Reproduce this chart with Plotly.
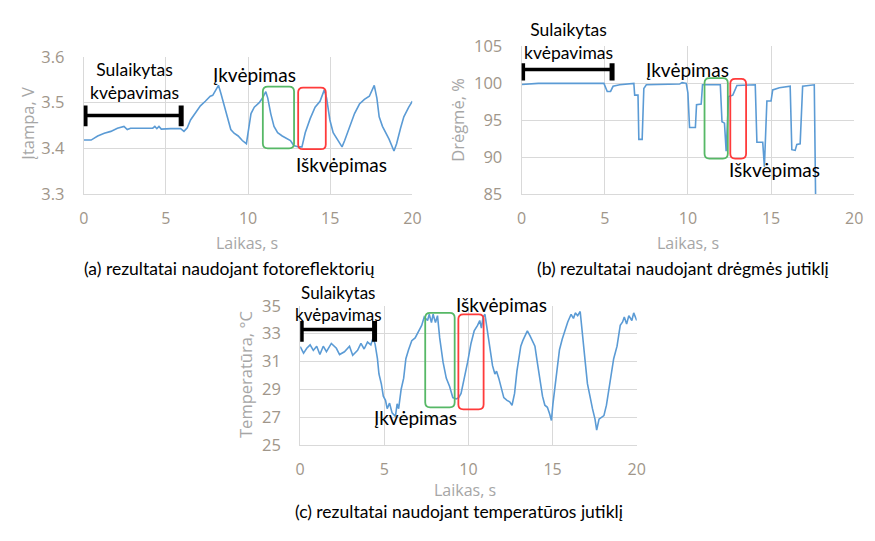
import plotly.graph_objects as go

W, H = 875, 541

# ---------------- data ----------------
a_time = [0.0, 0.45, 0.85, 1.25, 1.65, 2.05, 2.45, 2.65, 2.85, 3.3, 3.9, 4.2, 4.33, 4.45, 4.58, 4.72, 5.3, 5.9, 6.1, 6.3,
          6.5, 6.8, 7.1, 7.4, 7.7, 7.85, 8.0, 8.2, 8.35, 8.55, 8.75, 8.95, 9.15, 9.4, 9.65, 9.9, 10.0, 10.18, 10.38, 10.68,
          10.88, 11.08, 11.2, 11.38, 11.58, 11.8, 12.08, 12.38, 12.58, 12.78, 13.08, 13.28, 13.48, 13.78, 14.08, 14.38,
          14.64, 14.78, 14.98, 15.18, 15.48, 15.72, 15.88, 16.18, 16.48, 16.78, 17.08, 17.38, 17.68, 17.84, 17.98, 18.18,
          18.38, 18.58, 18.88, 19.04, 19.28, 19.48, 19.78, 20.0]
a_volt = [3.418, 3.418, 3.427, 3.433, 3.437, 3.444, 3.448, 3.441, 3.444, 3.444, 3.444, 3.444, 3.448, 3.443, 3.448, 3.442,
          3.443, 3.443, 3.437, 3.445, 3.462, 3.479, 3.493, 3.503, 3.514, 3.516, 3.526, 3.538, 3.52, 3.493, 3.465, 3.441,
          3.433, 3.427, 3.417, 3.41, 3.434, 3.476, 3.49, 3.5, 3.51, 3.524, 3.51, 3.476, 3.448, 3.434, 3.427, 3.42, 3.417,
          3.406, 3.403, 3.403, 3.434, 3.465, 3.49, 3.503, 3.528, 3.51, 3.462, 3.434, 3.417, 3.403, 3.417, 3.448, 3.476,
          3.497, 3.507, 3.514, 3.538, 3.51, 3.469, 3.448, 3.434, 3.42, 3.394, 3.41, 3.444, 3.469, 3.49, 3.503]

b_time = [0.0, 0.9, 1.0, 4.95, 5.15, 5.35, 5.5, 5.9, 6.75, 6.8, 7.0, 7.05, 7.25, 7.35, 7.5, 9.5, 9.65, 9.9, 10.0, 10.1,
          10.45, 10.52, 10.8, 10.88, 11.95, 12.05, 12.2, 12.3, 12.45, 12.7, 12.95, 14.05, 14.15, 14.5, 14.6, 14.75, 15.0,
          15.1, 15.5, 16.15, 16.25, 16.45, 16.55, 16.75, 16.9, 17.6, 17.68]
b_hum = [99.85, 99.9, 100.0, 100.0, 98.9, 98.9, 99.6, 99.8, 100.0, 98.4, 98.4, 92.4, 92.4, 99.3, 99.8, 99.9, 100.1, 100.0,
         98.7, 94.0, 94.0, 97.1, 97.2, 99.8, 99.8, 94.8, 94.6, 90.8, 98.2, 98.4, 99.7, 99.8, 92.0, 92.0, 88.7, 97.6, 97.6,
         99.1, 99.4, 99.6, 91.0, 90.9, 91.7, 91.8, 99.6, 99.8, 84.5]

c_time = [0.00, 0.20, 0.39, 0.59, 0.78, 0.98, 1.17, 1.37, 1.56, 1.85, 2.15, 2.34, 2.63, 2.93, 3.12, 3.41, 3.61, 3.80,
          4.00, 4.20, 4.33, 4.45, 4.59, 4.68, 4.82, 4.94, 5.07, 5.17, 5.31, 5.46, 5.66, 5.76, 5.85, 6.00, 6.15, 6.28,
          6.44, 6.63, 6.83, 7.02, 7.22, 7.37, 7.57, 7.67, 7.80, 7.90, 8.04, 8.16, 8.29, 8.49, 8.68, 8.88, 9.07, 9.27,
          9.42, 9.56, 9.76, 9.95, 10.15, 10.34, 10.54, 10.67, 10.77, 10.87, 10.98, 11.12, 11.28, 11.43, 11.57, 11.67,
          11.80, 11.94, 12.10, 12.29, 12.45, 12.59, 12.74, 12.88, 12.98, 13.11, 13.23, 13.37, 13.50, 13.66, 13.81,
          13.95, 14.09, 14.24, 14.40, 14.54, 14.69, 14.83, 14.93, 15.02, 15.18, 15.28, 15.41, 15.57, 15.71, 15.90,
          16.10, 16.24, 16.35, 16.49, 16.64, 16.78, 16.94, 17.07, 17.23, 17.37, 17.52, 17.62, 17.76, 17.91, 18.05,
          18.20, 18.34, 18.50, 18.63, 18.83, 19.02, 19.16, 19.26, 19.40, 19.53, 19.71, 19.82, 20.00]
c_temp = [32.07, 31.6, 31.95, 32.2, 31.8, 32.1, 31.5, 32.1, 31.7, 32.3, 31.95, 31.5, 31.7, 32.1, 31.45, 31.8, 32.3, 31.9,
          32.4, 32.2, 32.7, 32.25, 31.2, 30.1, 29.4, 28.5, 28.2, 27.6, 28.0, 27.3, 27.05, 27.95, 27.6, 29.0, 29.8, 31.2,
          31.85, 32.5, 32.7, 33.2, 33.6, 34.2, 33.95, 34.4, 33.8, 34.4, 33.8, 34.3, 32.7, 30.95, 29.8, 29.2, 28.4, 28.3,
          28.4, 28.7, 29.8, 30.95, 32.3, 33.2, 33.6, 33.95, 33.4, 34.2, 34.4, 33.2, 31.85, 30.7, 30.1, 30.3,
          29.8, 29.1, 28.4, 28.2, 28.1, 27.85, 28.7, 30.3, 31.2, 32.1, 32.5, 32.85, 33.2, 32.85, 32.4,
          32.1, 30.95, 29.6, 28.5, 27.85, 27.7, 27.2, 26.75, 27.95, 29.4, 30.7, 31.85, 32.6, 33.2, 33.85,
          34.4, 34.1, 34.5, 34.3, 34.6, 32.7, 30.95, 29.4, 28.3, 27.6, 26.85, 26.05, 26.85, 26.95, 27.1,
          27.85, 28.95, 30.1, 31.2, 32.1, 33.6, 33.85, 34.2, 33.7, 34.3, 33.95, 34.5, 33.95]

x_ticks = [0, 5, 10, 15, 20]
x_ticktext = ["0", "5", "10", "15", "20"]
a_yticks = [3.3, 3.4, 3.5, 3.6]
a_yticktext = ["3.3", "3.4", "3.5", "3.6"]
b_yticks = [85, 90, 95, 100, 105]
b_yticktext = ["85", "90", "95", "100", "105"]
c_yticks = [25, 27, 29, 31, 33, 35]
c_yticktext = ["25", "27", "29", "31", "33", "35"]

# ---------------- styles ----------------
LINE = "#5b9bd5"
GRID = "#d9d9d9"
TICKC = "#a0968a"
TITLEC = "#a6a6a6"
GREEN = "#56b866"
RED = "#ff3b3b"
TFONT = "Open Sans"
AFONT = "Lato"

# plot areas in pixels (left, right, top, bottom)
PA = {"a": (80, 414, 47, 190), "b": (525, 863, 36, 190), "c": (300, 642, 307, 452)}
YR = {"a": [3.3, 3.6], "b": [85, 105], "c": [25, 35]}

fig = go.Figure()
fig.add_trace(go.Scatter(x=a_time, y=a_volt, mode="lines", line=dict(color=LINE, width=1.6),
                         xaxis="x", yaxis="y", showlegend=False, hoverinfo="skip"))
fig.add_trace(go.Scatter(x=b_time, y=b_hum, mode="lines", line=dict(color=LINE, width=1.6),
                         xaxis="x2", yaxis="y2", showlegend=False, hoverinfo="skip"))
fig.add_trace(go.Scatter(x=c_time, y=c_temp, mode="lines", line=dict(color=LINE, width=1.6),
                         xaxis="x3", yaxis="y3", showlegend=False, hoverinfo="skip"))


def xax(key, anchor):
    l, r, t, b = PA[key]
    return dict(domain=[l / W, r / W], range=[0, 20], tickvals=x_ticks, ticktext=x_ticktext,
                showgrid=True, gridcolor=GRID, gridwidth=1, zeroline=False, showline=True,
                linecolor=GRID, linewidth=1, ticks="", anchor=anchor, ticklabelstandoff=10,
                tickfont=dict(family=TFONT, size=16, color=TICKC), fixedrange=True)


def yax(key, anchor, vals, text):
    l, r, t, b = PA[key]
    return dict(domain=[1 - b / H, 1 - t / H], range=YR[key], tickvals=vals, ticktext=text,
                showgrid=True, gridcolor=GRID, gridwidth=1, zeroline=False, showline=True,
                linecolor=GRID, linewidth=1, ticks="", anchor=anchor, ticklabelstandoff=15,
                tickfont=dict(family=TFONT, size=16.5, color=TICKC), fixedrange=True)


fig.update_layout(
    width=W, height=H, margin=dict(l=0, r=0, t=0, b=0),
    paper_bgcolor="white", plot_bgcolor="white",
    xaxis=xax("a", "y"), yaxis=yax("a", "x", a_yticks, a_yticktext),
    xaxis2=xax("b", "y2"), yaxis2=yax("b", "x2", b_yticks, b_yticktext),
    xaxis3=xax("c", "y3"), yaxis3=yax("c", "x3", c_yticks, c_yticktext),
)

anns = []


def ann(text, px, py, size=19, color="black", family=AFONT, angle=0):
    anns.append(dict(text=text, x=px / W, y=1 - py / H, xref="paper", yref="paper", showarrow=False,
                     xanchor="center", yanchor="middle", textangle=angle,
                     font=dict(family=family, size=size, color=color)))


# axis titles
ann("Laikas, s", 246, 241, 16, TITLEC, TFONT)
ann("Laikas, s", 694, 241, 16, TITLEC, TFONT)
ann("Laikas, s", 467, 499, 16, TITLEC, TFONT)
ann("Įtampa, V", 22, 116, 16.5, TITLEC, TFONT, -90)
ann("Drėgmė, %", 460, 113, 16.5, TITLEC, TFONT, -90)
ann("Temperatūra, °C", 245, 379, 16.5, TITLEC, TFONT, -90)

# captions
ann("(a) rezultatai naudojant fotoreflektorių", 228, 268, 17.5)
ann("(b) rezultatai naudojant drėgmės jutiklį", 689, 268, 17.5)
ann("(c) rezultatai naudojant temperatūros jutiklį", 461, 522, 17.5)

# in-chart labels
ann("Sulaikytas<br>kvėpavimas", 132, 72, 17.5)
ann("Įkvėpimas", 254, 65)
ann("Iškvėpimas", 342, 159)

ann("Sulaikytas<br>kvėpavimas", 573, 30, 17.5)
ann("Įkvėpimas", 694, 60)
ann("Iškvėpimas", 782, 165)

ann("Sulaikytas<br>kvėpavimas", 339, 304, 17)
ann("Iškvėpimas", 505, 306)
ann("Įkvėpimas", 417, 423)

fig.update_layout(annotations=anns)

shapes = []

# brackets: (x0, x1, y, ylow, yhigh)
brackets = {"a": (0.08, 5.93, 3.472, 3.448, 3.494),
            "b": (0.06, 5.44, 101.87, 100.39, 102.74),
            "c": (0.06, 4.42, 33.3, 32.43, 33.92)}
refs = {"a": ("x", "y"), "b": ("x2", "y2"), "c": ("x3", "y3")}
for k, (x0, x1, yy, ylo, yhi) in brackets.items():
    xr, yr = refs[k]
    shapes.append(dict(type="line", xref=xr, yref=yr, x0=x0, x1=x1, y0=yy, y1=yy,
                       line=dict(color="black", width=3.5)))
    for xx in (x0, x1):
        shapes.append(dict(type="line", xref=xr, yref=yr, x0=xx, x1=xx, y0=ylo, y1=yhi,
                           line=dict(color="black", width=5)))


def rrect(key, x0, x1, y0, y1, color, rad=5):
    l, r, t, b = PA[key]
    sx = (r - l) / 20.0
    sy = (b - t) / (YR[key][1] - YR[key][0])
    rx, ry = rad / sx, rad / sy
    p = (f"M {x0 + rx},{y0} L {x1 - rx},{y0} Q {x1},{y0} {x1},{y0 + ry} "
         f"L {x1},{y1 - ry} Q {x1},{y1} {x1 - rx},{y1} L {x0 + rx},{y1} Q {x0},{y1} {x0},{y1 - ry} "
         f"L {x0},{y0 + ry} Q {x0},{y0} {x0 + rx},{y0} Z")
    xr, yr = refs[key]
    shapes.append(dict(type="path", path=p, xref=xr, yref=yr, line=dict(color=color, width=1.8),
                       fillcolor="rgba(0,0,0,0)"))


rrect("a", 10.9, 12.8, 3.4, 3.535, GREEN)
rrect("a", 13.05, 14.73, 3.398, 3.533, RED)
rrect("b", 11.0, 12.4, 89.8, 100.7, GREEN)
rrect("b", 12.55, 13.5, 89.8, 100.6, RED)
rrect("c", 7.43, 9.18, 27.7, 34.5, GREEN)
rrect("c", 9.4, 10.9, 27.55, 34.4, RED)

fig.update_layout(shapes=shapes)

fig.write_html("out.html")
